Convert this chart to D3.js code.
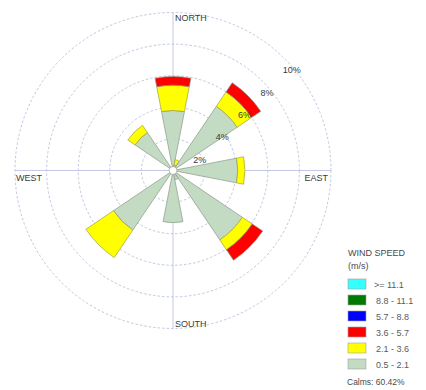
<!DOCTYPE html>
<html>
<head>
<meta charset="utf-8">
<script src="https://cdn.jsdelivr.net/npm/d3@7"></script>
<style>
  html, body { margin: 0; padding: 0; background: #fff; }
  svg { display: block; font-family: "Liberation Sans", Arial, sans-serif; }
</style>
</head>
<body>
<svg id="rose" width="426" height="390"></svg>
<script>
// Wind directions (16-point compass, clockwise from north)
const directions = ["N","NNE","NE","ENE","E","ESE","SE","SSE","S","SSW","SW","WSW","W","WNW","NW","NNW"];

// Frequency (%) of each speed class per direction
const freq_05_21  = [3.8, 0.35, 4.9, 0, 4.1, 0, 5.3, 0.6, 3.3, 0, 4.55, 0, 0, 0, 2.9, 0];
const freq_21_36  = [1.6, 0.35, 1.1, 0, 0.45, 0, 0.75, 0, 0, 0, 2.1, 0, 0, 0, 0.55, 0];
const freq_36_57  = [0.55, 0, 0.7, 0, 0, 0, 0.8, 0, 0, 0, 0, 0, 0, 0, 0, 0];
const freq_57_88  = [0, 0, 0, 0, 0, 0, 0, 0, 0, 0, 0, 0, 0, 0, 0, 0];
const freq_88_111 = [0, 0, 0, 0, 0, 0, 0, 0, 0, 0, 0, 0, 0, 0, 0, 0];
const freq_111    = [0, 0, 0, 0, 0, 0, 0, 0, 0, 0, 0, 0, 0, 0, 0, 0];

// Speed classes from slowest to fastest (legend lists them fastest first)
const speedClasses = ["0.5 - 2.1", "2.1 - 3.6", "3.6 - 5.7", "5.7 - 8.8", "8.8 - 11.1", ">= 11.1"];
const classColors  = ["#c3dac3", "#ffff00", "#ff0000", "#0000ff", "#007a00", "#33ffff"];

const ringTicks = [2, 4, 6, 8, 10];
const compassLabels = ["NORTH", "EAST", "SOUTH", "WEST"];
const calmsPct = 60.42;

const series = [freq_05_21, freq_21_36, freq_36_57, freq_57_88, freq_88_111, freq_111];

const svg = d3.select("#rose");
const cx = 173, cy = 170.5;
const maxPct = 10;
const r = d3.scaleLinear().domain([0, maxPct]).range([0, 158]);
const angle = d3.scalePoint().domain(directions).range([0, 2 * Math.PI * 15 / 16]);
const halfWidth = (22 / 2) * Math.PI / 180;

const g = svg.append("g").attr("transform", `translate(${cx},${cy})`);

// Grid rings
g.selectAll("circle.ring").data(ringTicks).join("circle")
  .attr("class", "ring")
  .attr("r", d => r(d))
  .attr("fill", "none")
  .attr("stroke", "#b2b9d6")
  .attr("stroke-width", 0.8)
  .attr("stroke-dasharray", "2.5,2");

// Compass axes
const R = r(maxPct);
g.append("line").attr("x1", -R).attr("x2", R).attr("y1", 0).attr("y2", 0)
  .attr("stroke", "#b4bbe0").attr("stroke-width", 0.8);
g.append("line").attr("x1", 0).attr("x2", 0).attr("y1", -R).attr("y2", R)
  .attr("stroke", "#b4bbe0").attr("stroke-width", 0.8);

// Petals: stacked speed classes per direction
const arc = d3.arc();
const stacks = [];
directions.forEach((dir, i) => {
  let cum = 0;
  series.forEach((s, k) => {
    const v = s[i];
    if (v > 0) {
      stacks.push({ dir, k, inner: cum, outer: cum + v });
    }
    cum += v;
  });
});

g.selectAll("path.petal").data(stacks).join("path")
  .attr("class", "petal")
  .attr("d", d => arc({
    innerRadius: r(d.inner),
    outerRadius: r(d.outer),
    startAngle: angle(d.dir) - halfWidth,
    endAngle: angle(d.dir) + halfWidth
  }))
  .attr("fill", d => classColors[d.k])
  .attr("stroke", d => d.k === 1 ? "#a0a040" : "#8a9a8a")
  .attr("stroke-width", 0.7)
  .attr("stroke-linejoin", "round");

// Calm circle at the centre
g.append("circle").attr("r", 4).attr("fill", "#fff")
  .attr("stroke", "#8a8a8a").attr("stroke-width", 0.6);

// Ring labels along the north-east diagonal
g.selectAll("text.ringlab").data(ringTicks).join("text")
  .attr("class", "ringlab")
  .attr("x", d => r(d) * Math.SQRT1_2 - 2)
  .attr("y", d => -r(d) * Math.SQRT1_2 + 14.5)
  .attr("font-size", 9)
  .attr("fill", "#3a3a3a")
  .text(d => d + "%");

// Compass labels inside the outer ring
const compassPos = {
  NORTH: { x: 2, y: -R + 8.5, anchor: "start" },
  EAST:  { x: R - 3, y: 10.5, anchor: "end" },
  SOUTH: { x: 2, y: R - 1.5, anchor: "start" },
  WEST:  { x: -R + 1, y: 10.5, anchor: "start" }
};
g.selectAll("text.compass").data(compassLabels).join("text")
  .attr("class", "compass")
  .attr("x", d => compassPos[d].x)
  .attr("y", d => compassPos[d].y)
  .attr("text-anchor", d => compassPos[d].anchor)
  .attr("font-size", 9)
  .attr("fill", "#3a3a3a")
  .text(d => d);

// Legend
const leg = svg.append("g").attr("transform", "translate(348,0)");
leg.append("text").attr("x", 0).attr("y", 256).attr("font-size", 9).attr("fill", "#4a4a4a").text("WIND SPEED");
leg.append("text").attr("x", 0).attr("y", 269).attr("font-size", 9).attr("fill", "#4a4a4a").text("(m/s)");

const legendOrder = d3.range(speedClasses.length).reverse();
const ly = d3.scalePoint().domain(legendOrder).range([279, 359]);
const rows = leg.selectAll("g.row").data(legendOrder).join("g").attr("class", "row")
  .attr("transform", k => `translate(0,${ly(k)})`);
rows.append("rect").attr("width", 18).attr("height", 10)
  .attr("fill", k => classColors[k]).attr("stroke", "#a0a0a0").attr("stroke-width", 0.6);
rows.append("text").attr("x", k => k === 5 ? 26 : 28).attr("y", 8.5)
  .attr("font-size", 9).attr("fill", "#5a5a5a")
  .text(k => speedClasses[k]);

leg.append("text").attr("x", -1).attr("y", 385).attr("font-size", 8.5).attr("fill", "#4a4a4a")
  .text(`Calms: ${calmsPct.toFixed(2)}%`);
</script>
</body>
</html>
